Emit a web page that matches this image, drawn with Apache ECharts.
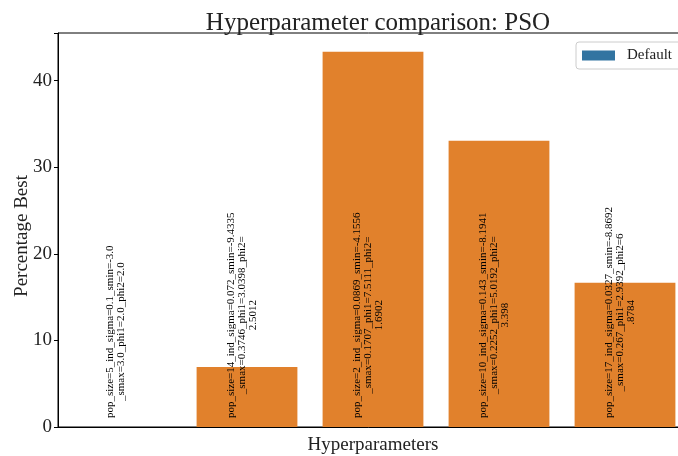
<!DOCTYPE html>
<html><head><meta charset="utf-8">
<script src="https://cdn.jsdelivr.net/npm/echarts@6/dist/echarts.min.js"></script>
<style>html,body{margin:0;padding:0;background:#fff}#c{width:678px;height:456px}</style>
</head><body><div id="c"></div>
<script>
const categories = ['c1','c2','c3','c4','c5'];
const percentBest = [0, 6.94, 43.33, 33.06, 16.67];
const barLabels = [
  ['pop_size=5_ind_sigma=0.1_smin=-3.0', '_smax=3.0_phi1=2.0_phi2=2.0'],
  ['pop_size=14_ind_sigma=0.072_smin=-9.4335', '_smax=0.3746_phi1=3.0398_phi2=', '2.5012'],
  ['pop_size=2_ind_sigma=0.0869_smin=-4.1556', '_smax=0.1707_phi1=7.5111_phi2=', '1.6902'],
  ['pop_size=10_ind_sigma=0.143_smin=-8.1941', '_smax=0.2252_phi1=5.0192_phi2=', '3.398'],
  ['pop_size=17_ind_sigma=0.0327_smin=-8.8692', '_smax=0.267_phi1=2.9392_phi2=6', '.8784']
];
const yTicks = [0, 10, 20, 30, 40];
const yAxisTitle = 'Percentage Best';
const FONT = '"Liberation Serif", serif';

const chart = echarts.init(document.getElementById('c'), null, {renderer: 'canvas'});
chart.setOption({
  animation: false,
  title: {
    text: 'Hyperparameter comparison: PSO', left: 373, top: 6, textAlign: 'center',
    textStyle: {fontFamily: FONT, fontSize: 25, fontWeight: 'normal', color: '#222'}
  },
  legend: {
    data: ['Default'], left: 576, top: 42, orient: 'vertical',
    itemWidth: 33, itemHeight: 10, itemGap: 5,
    padding: [6, 20, 6, 6], borderColor: '#ccc', borderWidth: 1, borderRadius: 3,
    textStyle: {fontFamily: FONT, fontSize: 15, color: '#222', padding: [0, 0, 0, 7]},
    icon: 'rect'
  },
  graphic: [{
    type: 'text', x: 22, y: 236, rotation: Math.PI / 2,
    style: {text: yAxisTitle, font: '19px ' + FONT, fill: '#222', align: 'center', verticalAlign: 'middle'}
  }],
  grid: {left: 58, width: 630, top: 33, bottom: 29, show: true, borderColor: '#000', borderWidth: 1,
    outerBoundsMode: 'none', containLabel: false},
  xAxis: {
    type: 'category', data: categories,
    name: 'Hyperparameters', nameLocation: 'middle', nameGap: 9,
    nameTextStyle: {fontFamily: FONT, fontSize: 19, color: '#222', verticalAlign: 'top'},
    axisLine: {lineStyle: {color: '#000', width: 1}},
    axisTick: {alignWithLabel: true, length: 4, lineStyle: {color: '#000'}},
    axisLabel: {show: false}
  },
  yAxis: {
    type: 'value', min: 0, max: 45.5, interval: 10,
    axisLine: {show: true, lineStyle: {color: '#000', width: 1}},
    axisTick: {show: true, length: 4, lineStyle: {color: '#000'}},
    axisLabel: {fontFamily: FONT, fontSize: 19, color: '#222', margin: 6,
      formatter: v => yTicks.includes(v) ? String(v) : ''},
    splitLine: {show: false}
  },
  series: [
    {
      name: 'Values', type: 'bar', data: percentBest, barCategoryGap: '20%', barGap: '-100%',
      itemStyle: {color: '#e1812c'},
      label: {
        show: true, position: 'insideBottom', rotate: 90, distance: 9,
        align: 'left', verticalAlign: 'middle', offset: [0, -5],
        fontFamily: FONT, fontSize: 11, color: '#000', lineHeight: 11,
        formatter: p => barLabels[p.dataIndex].map(s => '{c|' + s + '}').join('\n'),
        rich: {c: {align: 'center', fontFamily: FONT, fontSize: 11, lineHeight: 11, color: '#000'}}
      }
    },
    {name: 'Default', type: 'bar', data: [], barGap: '-100%', itemStyle: {color: '#3274a1'}}
  ]
});
</script></body></html>
